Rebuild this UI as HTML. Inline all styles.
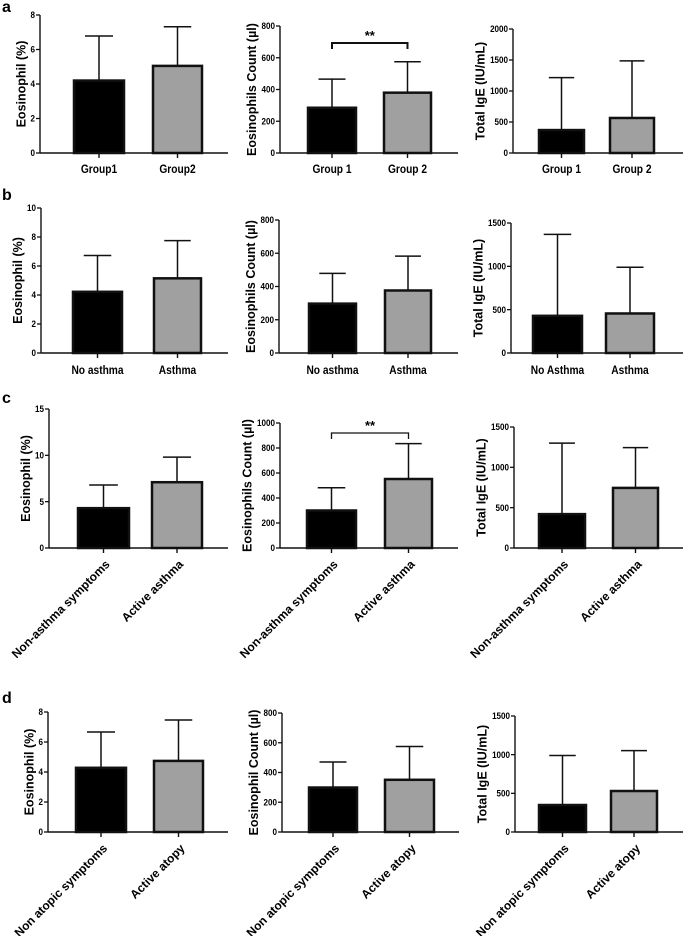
<!DOCTYPE html>
<html><head><meta charset="utf-8"><style>
body{margin:0;background:#fff;}
svg{display:block;font-family:"Liberation Sans",sans-serif;}
</style></head><body>
<svg id="fig" width="685" height="936" viewBox="0 0 685 936"></svg>
<script>
// Panel a
const aCats1=["Group1","Group2"], aMeans1=[4.2,5.05], aSD1=[2.58,2.27], aTicks1=[0,2,4,6,8];
const aCats2=["Group 1","Group 2"], aMeans2=[285,380], aSD2=[180,195], aTicks2=[0,200,400,600,800];
const aCats3=["Group 1","Group 2"], aMeans3=[370,565], aSD3=[845,920], aTicks3=[0,500,1000,1500,2000];
// Panel b
const bCats1=["No asthma","Asthma"], bMeans1=[4.22,5.15], bSD1=[2.5,2.6], bTicks1=[0,2,4,6,8,10];
const bCats2=["No asthma","Asthma"], bMeans2=[297,376], bSD2=[182,207], bTicks2=[0,200,400,600,800];
const bCats3=["No Asthma","Asthma"], bMeans3=[429,456], bSD3=[940,534], bTicks3=[0,500,1000,1500];
// Panel c
const cCats1=["Non-asthma symptoms","Active asthma"], cMeans1=[4.3,7.1], cSD1=[2.5,2.7], cTicks1=[0,5,10,15];
const cCats2=["Non-asthma symptoms","Active asthma"], cMeans2=[300,552], cSD2=[182,283], cTicks2=[0,200,400,600,800,1000];
const cCats3=["Non-asthma symptoms","Active asthma"], cMeans3=[420,745], cSD3=[880,500], cTicks3=[0,500,1000,1500];
// Panel d
const dCats1=["Non atopic symptoms","Active atopy"], dMeans1=[4.28,4.74], dSD1=[2.39,2.73], dTicks1=[0,2,4,6,8];
const dCats2=["Non atopic symptoms","Active atopy"], dMeans2=[299,351], dSD2=[172,224], dTicks2=[0,200,400,600,800];
const dCats3=["Non atopic symptoms","Active atopy"], dMeans3=[349,530], dSD3=[640,522], dTicks3=[0,500,1000,1500];

const NS="http://www.w3.org/2000/svg";
const svg=document.getElementById('fig');
function mk(tag,attrs,parent,text){const e=document.createElementNS(NS,tag);for(const k in attrs)e.setAttribute(k,attrs[k]);if(text!==undefined)e.textContent=text;(parent||svg).appendChild(e);return e;}

function panel(id,cfg){
  const g=mk('g',{});
  
  
  const {ax,top,bot,xend,bars,cats,means,sds,ticks,title,rot}=cfg;
  const max=ticks[ticks.length-1];
  const y=v=>bot-(v/max)*(bot-top);
  means.forEach((m,i)=>{
    const x0=bars[i][0],x1=bars[i][1],cx=(x0+x1)/2,bw=x1-x0,cw=bw*0.27;
    const eb=mk('line',{x1:cx,x2:cx,y1:y(m),y2:y(m+sds[i]),stroke:'#111','stroke-width':1.5},g);
    
    
    const cap=mk('line',{x1:cx-cw,x2:cx+cw,y1:y(m+sds[i]),y2:y(m+sds[i]),stroke:'#111','stroke-width':1.5},g);
    
    
    const r=mk('rect',{x:x0+1,y:y(m),width:bw-2,height:bot-y(m),fill:i==0?'#000':'#a0a0a0',stroke:'#111','stroke-width':2.5},g);
    
    
    const tk=mk('line',{x1:cx,x2:cx,y1:bot,y2:bot+5,stroke:'#111','stroke-width':1.4},g);
    
    
    let t;
    if(rot){
      const px=cx+7,py=bot+17;
      t=mk('text',{x:px,y:py,'text-anchor':'end','font-size':12,'font-weight':'bold',transform:`rotate(-45 ${px} ${py})`},g,cats[i]);
    }else{
      t=mk('text',{x:cx,y:cfg.ly||bot+20,'text-anchor':'middle','font-size':12,'font-weight':'bold',transform:`translate(${cx} 0) scale(0.85 1) translate(${-cx} 0)`},g,cats[i]);
    }
    
    
  });
  const yl=mk('line',{x1:ax,x2:ax,y1:top,y2:bot,stroke:'#111','stroke-width':1.4},g);
  
  
  const xl=mk('line',{x1:ax,x2:xend,y1:bot,y2:bot,stroke:'#111','stroke-width':1.4},g);
  
  
  ticks.forEach(v=>{
    const tl=mk('line',{x1:ax-4,x2:ax,y1:y(v),y2:y(v),stroke:'#111','stroke-width':1.3},g);
    
    
    const tx0=ax-5;
    const tt=mk('text',{x:tx0,y:y(v)+3.2,'text-anchor':'end','font-size':9.5,'font-weight':'bold',transform:`translate(${tx0} 0) scale(0.85 1) translate(${-tx0} 0)`},g,String(v));
    
    
  });
  const ty=(top+bot)/2, tx=ax-10-String(max).length*4.6;
  const yt=mk('text',{x:tx,y:ty,'text-anchor':'middle','font-size':12.5,'font-weight':'bold',transform:`rotate(-90 ${tx} ${ty})`},g,title);
  
  
  if(cfg.sig){
    const by=cfg.sig,c0=(bars[0][0]+bars[0][1])/2,c1=(bars[1][0]+bars[1][1])/2;
    const br=mk('path',{d:`M${c0} ${by+6}V${by}H${c1}V${by+6}`,fill:'none',stroke:'#111','stroke-width':cfg.sigw||2},g);
    
    
    const st=mk('text',{x:(c0+c1)/2,y:by-3,'text-anchor':'middle','font-size':13,'font-weight':'bold'},g,'**');
    
    
  }
}
function letter(ch,yy){const t=mk('text',{x:2,y:yy,'font-size':16,'font-weight':'bold'},svg,ch);}

letter('a',12);
panel('panel-a-eos-percent',{ax:40,top:15,bot:153,xend:228,bars:[[73,125],[152,203]],cats:aCats1,means:aMeans1,sds:aSD1,ticks:aTicks1,title:'Eosinophil (%)'});
panel('panel-a-eos-count',{ax:280,top:26,bot:153,xend:458,bars:[[307,357],[383,432]],cats:aCats2,means:aMeans2,sds:aSD2,ticks:aTicks2,title:'Eosinophils Count (µl)',sig:43});
panel('panel-a-ige',{ax:513,top:29,bot:153,xend:683,bars:[[538,585],[609,655]],cats:aCats3,means:aMeans3,sds:aSD3,ticks:aTicks3,title:'Total IgE (IU/mL)'});
letter('b',200);
panel('panel-b-eos-percent',{ax:41,top:208,bot:353,xend:228,bars:[[72,123],[153,202]],cats:bCats1,means:bMeans1,sds:bSD1,ticks:bTicks1,title:'Eosinophil (%)',ly:374});
panel('panel-b-eos-count',{ax:279,top:220,bot:353,xend:458,bars:[[308,357],[384,432]],cats:bCats2,means:bMeans2,sds:bSD2,ticks:bTicks2,title:'Eosinophils Count (µl)',ly:374});
panel('panel-b-ige',{ax:511,top:223,bot:353,xend:683,bars:[[532,583],[605,655]],cats:bCats3,means:bMeans3,sds:bSD3,ticks:bTicks3,title:'Total IgE (IU/mL)',ly:374});
letter('c',403);
panel('panel-c-eos-percent',{ax:49,top:409,bot:548,xend:228,bars:[[77,130],[151,203]],cats:cCats1,means:cMeans1,sds:cSD1,ticks:cTicks1,title:'Eosinophil (%)',rot:1});
panel('panel-c-eos-count',{ax:280,top:423,bot:548,xend:458,bars:[[306,357],[384,433]],cats:cCats2,means:cMeans2,sds:cSD2,ticks:cTicks2,title:'Eosinophils Count (µl)',sig:433,sigw:1.3,rot:1});
panel('panel-c-ige',{ax:514,top:427,bot:548,xend:683,bars:[[538,586],[612,659]],cats:cCats3,means:cMeans3,sds:cSD3,ticks:cTicks3,title:'Total IgE (IU/mL)',rot:1});
letter('d',703);
panel('panel-d-eos-percent',{ax:48,top:712,bot:832,xend:228,bars:[[75,127],[153,204]],cats:dCats1,means:dMeans1,sds:dSD1,ticks:dTicks1,title:'Eosinophil (%)',rot:1});
panel('panel-d-eos-count',{ax:282,top:713,bot:832,xend:459,bars:[[308,358],[384,435]],cats:dCats2,means:dMeans2,sds:dSD2,ticks:dTicks2,title:'Eosinophil Count (µl)',rot:1});
panel('panel-d-ige',{ax:515,top:716,bot:832,xend:683,bars:[[538,587],[610,658]],cats:dCats3,means:dMeans3,sds:dSD3,ticks:dTicks3,title:'Total IgE (IU/mL)',rot:1});
</script>
</body></html>
